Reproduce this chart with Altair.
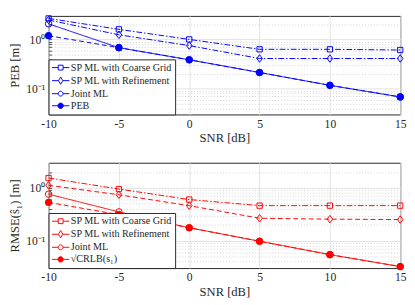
import altair as alt
import pandas as pd

# ---------------- data ----------------
snr = [-10, -5, 0, 5, 10, 15]

series_top = ["SP ML with Coarse Grid", "SP ML with Refinement", "Joint ML", "PEB"]
peb_coarse = [2.67, 1.60, 1.00, 0.63, 0.63, 0.61]
peb_refine = [2.48, 1.24, 0.75, 0.41, 0.41, 0.41]
peb_joint = [2.07, 0.68, 0.386, 0.213, 0.117, 0.068]
peb_bound = [1.19, 0.68, 0.386, 0.213, 0.117, 0.068]

series_bot = ["SP ML with Coarse Grid", "SP ML with Refinement", "Joint ML", "√CRLB(s₁)"]
rmse_coarse = [1.54, 0.95, 0.60, 0.46, 0.46, 0.46]
rmse_refine = [1.12, 0.74, 0.46, 0.265, 0.255, 0.25]
rmse_joint = [0.76, 0.35, 0.175, 0.097, 0.054, 0.032]
rmse_bound = [0.53, 0.31, 0.175, 0.097, 0.054, 0.032]

y_ticks = [0.04, 0.05, 0.06, 0.07, 0.08, 0.09, 0.1,
           0.2, 0.3, 0.4, 0.5, 0.6, 0.7, 0.8, 0.9, 1, 2]

# ---------------- styles ----------------
BLUE = "#0000ff"
RED = "#ff0000"
FONT = "Liberation Serif"
DASHDOT = [6, 2, 1.5, 2]
DASHED = [5, 3]
SOLID = [1, 0]

SQUARE = "M-1,-1H1V1H-1Z"
DIAMOND = "M-0.75,0L0,-1L0.75,0L0,1Z"

# legend symbols: a short line with the marker in its middle
LEG_PATHS = [
    "M-1,0H0.3M1.3,0H2.6M0.3,-0.5H1.3V0.5H0.3Z",
    "M-1,0H0.35M1.25,0H2.6M0.8,-0.75L1.25,0L0.8,0.75L0.35,0Z",
    "M-1,0H0.3M1.3,0H2.6M0.3,0A0.5,0.5,0,1,1,1.3,0A0.5,0.5,0,1,1,0.3,0Z",
    "M-1,0H0.25M1.35,0H2.6M0.25,0A0.55,0.55,0,1,1,1.35,0A0.55,0.55,0,1,1,0.25,0Z",
]


def long_df(series, values):
    rows = []
    for s, vals in zip(series, values):
        for x, v in zip(snr, vals):
            rows.append({"snr": x, "val": v, "series": s})
    return pd.DataFrame(rows)


def panel(df, series, dashes, color, ytitle, height):
    x = alt.X(
        "snr:Q",
        scale=alt.Scale(domain=[-10, 15], nice=False, zero=False),
        axis=alt.Axis(
            values=snr, title="SNR [dB]", labelExpr="datum.value",
            ticks=False, domain=False, labelFlush=False,
            gridColor="#e2e2e2", labelPadding=4, titlePadding=3,
        ),
    )
    y = alt.Y(
        "val:Q",
        scale=alt.Scale(type="log", domain=[0.03, 3], nice=False),
        axis=alt.Axis(
            values=y_ticks,
            labelExpr="datum.value == 1 ? '10⁰' : (datum.value == 0.1 ? '10⁻¹' : '')",
            labelOverlap=False, domain=False, offset=-3, tickSize=3,
            tickColor="#444444", labelPadding=4, title=ytitle, titlePadding=4,
            gridColor={"condition": {"test": "datum.value == 1 || datum.value == 0.1",
                                     "value": "#e2e2e2"}, "value": "#d0d0d0"},
            gridDash={"condition": {"test": "datum.value == 1 || datum.value == 0.1",
                                    "value": []}, "value": [1, 2]},
        ),
    )

    layers = []
    for s, dash in zip(series, dashes):
        layers.append(
            alt.Chart(df).transform_filter(alt.datum.series == s).mark_line(
                strokeWidth=1, color=color, strokeDash=dash
            ).encode(x=x, y=y)
        )

    fills = ["white", "white", "white", color]
    leg = alt.Legend(title=None, symbolStrokeColor=color, orient="bottom-left")
    layers.append(
        alt.Chart(df).transform_filter("false").mark_point(
            filled=False, strokeWidth=1, opacity=1
        ).encode(
            x=x, y=y,
            shape=alt.Shape("series:N", scale=alt.Scale(domain=series, range=LEG_PATHS), legend=leg),
            fill=alt.Fill("series:N", scale=alt.Scale(domain=series, range=fills), legend=leg),
            stroke=alt.Stroke("series:N", scale=alt.Scale(domain=series, range=[color] * 4), legend=leg),
        )
    )

    marker_specs = [(SQUARE, 30, False), (DIAMOND, 60, False), ("circle", 45, False), ("circle", 55, True)]
    for s, (shp, sz, filled) in zip(series, marker_specs):
        layers.append(
            alt.Chart(df).transform_filter(alt.datum.series == s).mark_point(
                shape=shp, size=sz, filled=filled, color=color, strokeWidth=1, opacity=1
            ).encode(x=x, y=y)
        )

    return alt.layer(*layers).properties(width=364, height=height)


top_df = long_df(series_top, [peb_coarse, peb_refine, peb_joint, peb_bound])
bot_df = long_df(series_bot, [rmse_coarse, rmse_refine, rmse_joint, rmse_bound])

top = panel(top_df, series_top, [DASHDOT, DASHDOT, SOLID, DASHED], BLUE, "PEB [m]", 102)
bot = panel(bot_df, series_bot, [DASHDOT, DASHED, SOLID, DASHED], RED, "RMSE(ŝ₁) [m]", 109)

chart = alt.vconcat(top, bot, spacing=17).resolve_scale(
    shape="independent", fill="independent", stroke="independent"
).resolve_legend(
    shape="independent", fill="independent", stroke="independent"
).configure_view(
    stroke="#262626", strokeWidth=1
).configure_axis(
    labelFont=FONT, titleFont=FONT, labelFontSize=12, titleFontSize=13,
    titleFontWeight="normal", labelColor="#262626", titleColor="#262626",
).configure_legend(
    orient="bottom-left", offset=0, padding=3, strokeColor="#262626", fillColor="white",
    labelFont=FONT, labelFontSize=10.5, labelColor="#262626", symbolSize=100,
    symbolStrokeWidth=1, rowPadding=1.5, labelOffset=9, cornerRadius=0,
).properties(padding={"left": 0, "right": 0, "top": 0, "bottom": 0})

chart.save("out.html", embed_options={"renderer": "svg", "actions": False})
